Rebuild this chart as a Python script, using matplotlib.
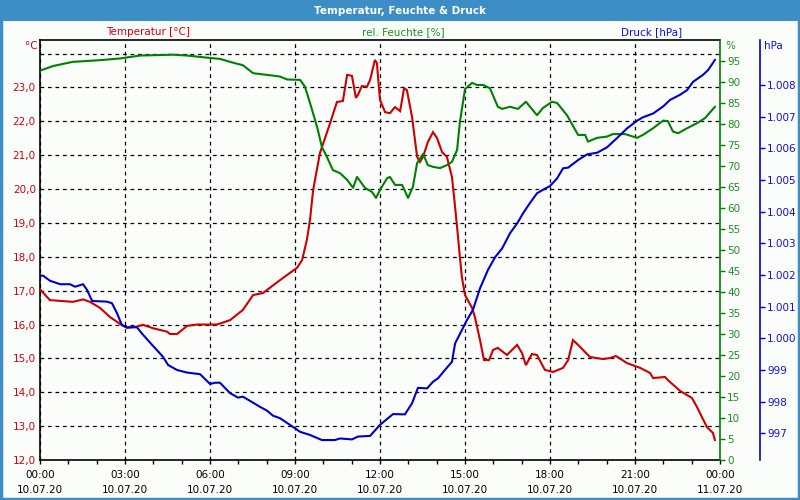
import matplotlib
matplotlib.use("Agg")
import matplotlib.pyplot as plt
from matplotlib.ticker import FuncFormatter, MultipleLocator, FixedLocator
from matplotlib.patches import Rectangle

plt.rcParams['font.family'] = ['DejaVu Sans']

# ---------------- data (hours after 10.07.20 00:00) ----------------
temp_hours = [0, 0.35, 1.16, 1.52, 1.76, 2.12, 2.47, 2.82, 3.07, 3.42, 3.64, 3.99, 4.48, 4.59,
              4.84, 5.19, 5.54, 6.25, 6.71, 7.16, 7.52, 7.87, 8.47, 8.93, 9.07, 9.25, 9.42, 9.53,
              9.64, 9.88, 10.24, 10.48, 10.69, 10.84, 11.01, 11.15, 11.22, 11.36, 11.54, 11.65,
              11.82, 11.89, 12.00, 12.18, 12.35, 12.53, 12.71, 12.85, 12.95, 13.13, 13.31, 13.41,
              13.52, 13.69, 13.87, 14.01, 14.19, 14.36, 14.54, 14.65, 14.72, 14.82, 14.89, 15.00,
              15.25, 15.35, 15.53, 15.67, 15.85, 15.99, 16.16, 16.48, 16.84, 17.01, 17.15, 17.36,
              17.54, 17.82, 18.11, 18.46, 18.64, 18.81, 18.99, 19.41, 19.87, 20.12, 20.33, 20.72,
              21.18, 21.53, 21.64, 22.06, 22.16, 22.59, 23.01, 23.19, 23.54, 23.75, 23.82]
temp_values = [17.04, 16.72, 16.67, 16.74, 16.67, 16.49, 16.22, 16.02, 15.90, 15.94, 15.99, 15.89,
               15.79, 15.72, 15.72, 15.96, 16.00, 16.00, 16.13, 16.43, 16.87, 16.93, 17.31, 17.59,
               17.67, 17.90, 18.50, 19.09, 19.97, 21.06, 21.95, 22.57, 22.60, 23.37, 23.34, 22.69,
               22.78, 23.04, 23.02, 23.22, 23.81, 23.72, 22.63, 22.27, 22.24, 22.42, 22.30, 22.98,
               22.92, 22.13, 20.95, 20.80, 20.95, 21.39, 21.68, 21.51, 21.09, 20.95, 20.36, 19.47,
               18.88, 17.99, 17.40, 16.87, 16.49, 16.22, 15.54, 14.95, 14.95, 15.25, 15.31, 15.10,
               15.40, 15.16, 14.80, 15.13, 15.10, 14.66, 14.60, 14.72, 14.95, 15.54, 15.40, 15.04,
               14.98, 15.01, 15.07, 14.86, 14.72, 14.57, 14.42, 14.45, 14.36, 14.04, 13.83, 13.56,
               12.97, 12.80, 12.59]

hum_hours = [0, 0.46, 1.16, 2.12, 2.82, 3.53, 4.69, 5.19, 5.89, 6.35, 6.81, 7.16, 7.52, 8.12,
             8.47, 8.72, 9.18, 9.35, 9.53, 9.78, 9.95, 10.13, 10.34, 10.59, 10.84, 11.05, 11.19,
             11.47, 11.72, 11.86, 12.00, 12.25, 12.35, 12.53, 12.78, 12.99, 13.16, 13.31, 13.52,
             13.69, 13.87, 14.12, 14.36, 14.54, 14.72, 14.82, 15.00, 15.25, 15.42, 15.64, 15.88,
             16.16, 16.31, 16.59, 16.87, 17.15, 17.54, 17.75, 18.07, 18.25, 18.60, 18.99, 19.24,
             19.34, 19.66, 20.01, 20.22, 20.65, 21.07, 21.28, 21.64, 21.99, 22.16, 22.34, 22.52,
             22.84, 23.19, 23.47, 23.82]
hum_values = [92.7, 93.8, 94.8, 95.2, 95.6, 96.3, 96.5, 96.3, 95.8, 95.5, 94.6, 94.0, 92.1, 91.6,
              91.3, 90.6, 90.5, 88.9, 85.0, 79.3, 74.5, 72.1, 69.0, 68.3, 66.7, 64.8, 67.4, 64.8,
              63.8, 62.4, 64.3, 67.1, 67.4, 65.5, 65.5, 62.4, 65.0, 70.7, 72.9, 70.2, 69.8, 69.5,
              70.2, 71.0, 73.8, 80.5, 88.3, 89.8, 89.3, 89.3, 88.5, 84.1, 83.6, 84.1, 83.6, 85.3,
              82.1, 83.8, 85.3, 85.0, 82.1, 77.4, 77.4, 75.8, 76.7, 77.0, 77.6, 77.6, 76.7, 77.4,
              79.0, 80.8, 80.7, 78.2, 77.8, 79.0, 80.2, 81.4, 84.1]

press_hours = [0, 0.11, 0.35, 0.71, 1.06, 1.24, 1.52, 1.66, 1.84, 2.36, 2.54, 2.72, 2.89, 3.07,
               3.42, 3.64, 3.99, 4.34, 4.52, 4.84, 5.19, 5.65, 6.00, 6.18, 6.35, 6.71, 6.99, 7.16,
               7.52, 7.76, 8.01, 8.22, 8.47, 8.82, 9.18, 9.53, 9.95, 10.41, 10.59, 11.01, 11.22,
               11.65, 12.00, 12.46, 12.88, 13.13, 13.34, 13.66, 13.87, 14.05, 14.29, 14.54, 14.65,
               14.89, 15.07, 15.28, 15.53, 15.81, 16.06, 16.31, 16.59, 16.84, 17.05, 17.29, 17.54,
               17.75, 18.00, 18.25, 18.46, 18.64, 18.99, 19.31, 19.66, 20.01, 20.36, 20.72, 21.07,
               21.28, 21.64, 21.99, 22.24, 22.59, 22.84, 23.05, 23.40, 23.58, 23.82]
press_values = [1001.98, 1001.98, 1001.82, 1001.71, 1001.71, 1001.63, 1001.71, 1001.53, 1001.18,
                1001.16, 1001.11, 1000.79, 1000.42, 1000.35, 1000.35, 1000.11, 999.76, 999.42,
                999.16, 999.00, 998.92, 998.87, 998.56, 998.60, 998.60, 998.27, 998.13, 998.16,
                997.97, 997.84, 997.72, 997.56, 997.48, 997.27, 997.05, 996.95, 996.79, 996.79,
                996.84, 996.81, 996.90, 996.92, 997.27, 997.61, 997.60, 997.95, 998.44, 998.42,
                998.63, 998.74, 999.00, 999.26, 999.84, 1000.26, 1000.58, 1000.90, 1001.58,
                1002.16, 1002.56, 1002.84, 1003.32, 1003.63, 1003.95, 1004.27, 1004.58, 1004.69,
                1004.81, 1005.05, 1005.37, 1005.39, 1005.63, 1005.81, 1005.86, 1006.03, 1006.32,
                1006.63, 1006.87, 1006.98, 1007.10, 1007.32, 1007.53, 1007.69, 1007.84, 1008.10,
                1008.32, 1008.47, 1008.79]

x_tick_hours = [0, 3, 6, 9, 12, 15, 18, 21, 24]
x_tick_labels = ["00:00\n10.07.20", "03:00\n10.07.20", "06:00\n10.07.20", "09:00\n10.07.20",
                 "12:00\n10.07.20", "15:00\n10.07.20", "18:00\n10.07.20", "21:00\n10.07.20",
                 "00:00\n11.07.20"]

title = "Temperatur, Feuchte & Druck"
series_names = ["Temperatur [°C]", "rel. Feuchte [%]", "Druck [hPa]"]

# ---------------- styling ----------------
RED, GREEN, BLUE = "#cc0000", "#008000", "#0000cc"
RED_T, GREEN_T, BLUE_T = "#d00010", "#209020", "#1010dd"
BG = "#fbfdfb"
FS = 7.5

W, H = 800, 500
fig = plt.figure(figsize=(8, 5), dpi=100)
fig.patch.set_facecolor(BG)

def fx(px):
    return px / W

def fy(py):
    return 1 - py / H

# title bar and border
fig.patches.append(Rectangle((0, fy(21)), 1, 21 / H, transform=fig.transFigure,
                             facecolor="#3d8ec6", edgecolor="none", zorder=0))
fig.patches.append(Rectangle((0.001, 0.002), 0.998, 0.996, transform=fig.transFigure,
                             facecolor="none", edgecolor="#3d8ec6", linewidth=2.5, zorder=0))
fig.text(0.5, fy(10.5), title, color="white", fontsize=7.5, fontweight="bold",
         ha="center", va="center")

ax = fig.add_axes([fx(40), fy(460), fx(680), 420 / H])
ax.set_facecolor(BG)

# temperature axis
ax.set_xlim(0, 24)
ax.set_ylim(12, 24.4)
ax.plot(temp_hours, temp_values, color=RED, lw=1.5, zorder=3, solid_joinstyle="miter")
ax.set_yticks(range(12, 25))
ax.yaxis.set_major_formatter(FuncFormatter(
    lambda v, p: "" if v > 23.5 else f"{v:.1f}".replace(".", ",")))
ax.tick_params(axis="y", length=0, pad=3, labelcolor=RED_T, labelsize=FS)
ax.xaxis.set_major_locator(FixedLocator(x_tick_hours))
ax.set_xticklabels(x_tick_labels, linespacing=1.6)
ax.xaxis.set_minor_locator(MultipleLocator(1))
ax.tick_params(axis="x", which="both", length=3, width=1, direction="out",
               labelsize=FS, pad=4.5, colors="black")
ax.grid(True, which="major", color="black", linestyle=(0, (3, 3)), linewidth=0.9)
for s in ["left", "top", "bottom"]:
    ax.spines[s].set_color("black")
    ax.spines[s].set_linewidth(1.2)
ax.spines["right"].set_visible(False)

# humidity axis
ax1 = ax.twinx()
ax1.set_ylim(0, 100)
ax1.plot(hum_hours, hum_values, color=GREEN, lw=1.5, zorder=3)
ax1.set_yticks(range(0, 100, 5))
ax1.tick_params(axis="y", length=3.5, width=1, color=GREEN, labelcolor=GREEN_T,
                labelsize=FS, pad=1.5)
for s in ["left", "top", "bottom"]:
    ax1.spines[s].set_visible(False)
ax1.spines["right"].set_color(GREEN)
ax1.spines["right"].set_linewidth(1.2)

# pressure axis
ax2 = ax.twinx()
ax2.set_ylim(996.16, 1009.42)
ax2.plot(press_hours, press_values, color=BLUE, lw=1.5, zorder=3)
ax2.set_yticks(range(997, 1009))
ax2.yaxis.set_major_formatter(FuncFormatter(
    lambda v, p: f"1.{int(round(v)) - 1000:03d}" if v >= 999.5 else f"{int(round(v))}"))
ax2.spines["right"].set_position(("axes", 720 / 680))
for s in ["left", "top", "bottom"]:
    ax2.spines[s].set_visible(False)
ax2.spines["right"].set_color(BLUE)
ax2.spines["right"].set_linewidth(1.2)
ax2.tick_params(axis="y", length=3.5, width=1, color=BLUE, labelcolor=BLUE_T,
                labelsize=FS, pad=1.5)

# header labels
fig.text(fx(148), fy(32), series_names[0], color=RED_T, fontsize=FS, ha="center", va="center")
fig.text(fx(403), fy(32), series_names[1], color=GREEN_T, fontsize=FS, ha="center", va="center")
fig.text(fx(652), fy(32), series_names[2], color=BLUE_T, fontsize=FS, ha="center", va="center")

# unit labels
fig.text(fx(38), fy(46), "°C", color=RED_T, fontsize=FS, ha="right", va="center")
fig.text(fx(725), fy(46), "%", color=GREEN_T, fontsize=FS, ha="left", va="center")
fig.text(fx(764), fy(46), "hPa", color=BLUE_T, fontsize=FS, ha="left", va="center")

fig.savefig("out.png", dpi=100, facecolor=fig.get_facecolor())
